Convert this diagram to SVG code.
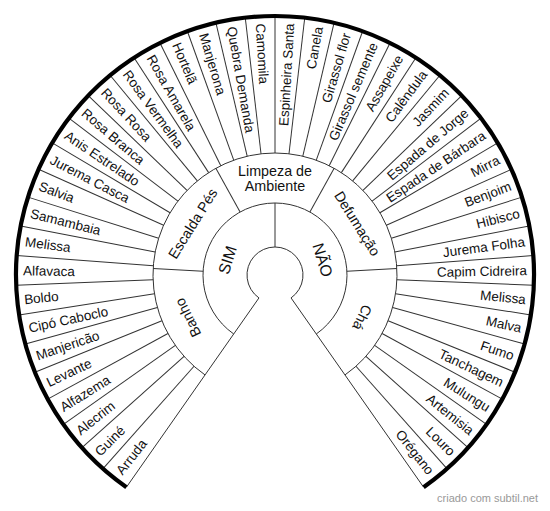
<svg xmlns="http://www.w3.org/2000/svg" xmlns:xlink="http://www.w3.org/1999/xlink" width="550" height="511" viewBox="0 0 550 511">
<style>
  .ln { stroke: #333; stroke-width: 1; fill: none; }
  .outer { stroke: #000; stroke-width: 4.2; fill: none; }
  text { font-family: "Liberation Sans", Arial, sans-serif; fill: #111; }
  .leaf { font-size: 13.5px; }
  .r2 { font-size: 14.3px; text-anchor: middle; }
  .r1 { font-size: 16px; text-anchor: middle; }
  .wm { font-size: 11px; fill: #999; text-anchor: end; }
</style>
<defs>
  <line id="spoke" x1="122" y1="0" x2="259" y2="0" class="ln"/>
  <line id="spoke2" x1="72" y1="0" x2="122" y2="0" class="ln"/>
</defs>
<rect width="550" height="511" fill="#fff"/>
<g id="connectors">
  <path class="ln" d="M 258.94 297.936 A 28 28 0 1 1 291.06 297.936"/>
  <path class="ln" d="M 233.703 333.979 A 72 72 0 1 1 316.297 333.979"/>
  <path class="ln" d="M 205.024 374.937 A 122 122 0 1 1 344.976 374.937"/>
  <line class="ln" x1="258.94" y1="297.936" x2="126.444" y2="487.16"/>
  <line class="ln" x1="291.06" y1="297.936" x2="423.556" y2="487.16"/>
  <g transform="translate(275 275)">
    <line class="ln" x1="0" y1="-28" x2="0" y2="-72"/>
    <use xlink:href="#spoke2" transform="rotate(183)"/>
    <use xlink:href="#spoke2" transform="rotate(241)"/>
    <use xlink:href="#spoke2" transform="rotate(299)"/>
    <use xlink:href="#spoke2" transform="rotate(357)"/>
    <use xlink:href="#spoke" transform="rotate(131.591)"/>
    <use xlink:href="#spoke" transform="rotate(138.182)"/>
    <use xlink:href="#spoke" transform="rotate(144.773)"/>
    <use xlink:href="#spoke" transform="rotate(151.364)"/>
    <use xlink:href="#spoke" transform="rotate(157.955)"/>
    <use xlink:href="#spoke" transform="rotate(164.545)"/>
    <use xlink:href="#spoke" transform="rotate(171.136)"/>
    <use xlink:href="#spoke" transform="rotate(177.727)"/>
    <use xlink:href="#spoke" transform="rotate(184.318)"/>
    <use xlink:href="#spoke" transform="rotate(190.909)"/>
    <use xlink:href="#spoke" transform="rotate(197.5)"/>
    <use xlink:href="#spoke" transform="rotate(204.091)"/>
    <use xlink:href="#spoke" transform="rotate(210.682)"/>
    <use xlink:href="#spoke" transform="rotate(217.273)"/>
    <use xlink:href="#spoke" transform="rotate(223.864)"/>
    <use xlink:href="#spoke" transform="rotate(230.455)"/>
    <use xlink:href="#spoke" transform="rotate(237.045)"/>
    <use xlink:href="#spoke" transform="rotate(243.636)"/>
    <use xlink:href="#spoke" transform="rotate(250.227)"/>
    <use xlink:href="#spoke" transform="rotate(256.818)"/>
    <use xlink:href="#spoke" transform="rotate(263.409)"/>
    <use xlink:href="#spoke" transform="rotate(270)"/>
    <use xlink:href="#spoke" transform="rotate(276.591)"/>
    <use xlink:href="#spoke" transform="rotate(283.182)"/>
    <use xlink:href="#spoke" transform="rotate(289.773)"/>
    <use xlink:href="#spoke" transform="rotate(296.364)"/>
    <use xlink:href="#spoke" transform="rotate(302.955)"/>
    <use xlink:href="#spoke" transform="rotate(309.545)"/>
    <use xlink:href="#spoke" transform="rotate(316.136)"/>
    <use xlink:href="#spoke" transform="rotate(322.727)"/>
    <use xlink:href="#spoke" transform="rotate(329.318)"/>
    <use xlink:href="#spoke" transform="rotate(335.909)"/>
    <use xlink:href="#spoke" transform="rotate(342.5)"/>
    <use xlink:href="#spoke" transform="rotate(349.091)"/>
    <use xlink:href="#spoke" transform="rotate(355.682)"/>
    <use xlink:href="#spoke" transform="rotate(362.273)"/>
    <use xlink:href="#spoke" transform="rotate(368.864)"/>
    <use xlink:href="#spoke" transform="rotate(375.455)"/>
    <use xlink:href="#spoke" transform="rotate(382.045)"/>
    <use xlink:href="#spoke" transform="rotate(388.636)"/>
    <use xlink:href="#spoke" transform="rotate(395.227)"/>
    <use xlink:href="#spoke" transform="rotate(401.818)"/>
    <use xlink:href="#spoke" transform="rotate(408.409)"/>
  </g>
  <path class="outer" d="M 126.444 487.16 A 259 259 0 1 1 423.556 487.16"/>
</g>
<g id="ring1" transform="translate(275 275)">
  <g id="sim"><text class="r1" dy="0.35em" transform="rotate(197.5) translate(50 0) rotate(90)">SIM</text></g>
  <g id="nao"><text class="r1" dy="0.35em" transform="rotate(342.5) translate(50 0) rotate(90)">NÃO</text></g>
</g>
<g id="ring2" transform="translate(275 275)">
  <g id="banho"><text class="r2" dy="0.35em" transform="rotate(154) translate(97 0) rotate(90)">Banho</text></g>
  <g id="escalda"><text class="r2" dy="0.35em" transform="rotate(212) translate(97 0) rotate(90)">Escalda Pés</text></g>
  <g id="limpeza"><text class="r2" transform="rotate(270) translate(97 0) rotate(90)"><tspan x="0" y="-7.5" dy="0.35em">Limpeza de</tspan><tspan x="0" y="7.5" dy="0.35em">Ambiente</tspan></text></g>
  <g id="defumacao"><text class="r2" dy="0.35em" transform="rotate(328) translate(97 0) rotate(90)">Defumação</text></g>
  <g id="cha"><text class="r2" dy="0.35em" transform="rotate(386) translate(97 0) rotate(90)">Chá</text></g>
</g>
<g id="leaves" class="leaf" transform="translate(275 275)">
  <text dy="0.35em" transform="rotate(128.295) translate(252 0) rotate(180)">Arruda</text>
  <text dy="0.35em" transform="rotate(134.886) translate(252 0) rotate(180)">Guiné</text>
  <text dy="0.35em" transform="rotate(141.477) translate(252 0) rotate(180)">Alecrim</text>
  <text dy="0.35em" transform="rotate(148.068) translate(252 0) rotate(180)">Alfazema</text>
  <text dy="0.35em" transform="rotate(154.659) translate(252 0) rotate(180)">Levante</text>
  <text dy="0.35em" transform="rotate(161.25) translate(252 0) rotate(180)">Manjericão</text>
  <text dy="0.35em" transform="rotate(167.841) translate(252 0) rotate(180)">Cipó Caboclo</text>
  <text dy="0.35em" transform="rotate(174.432) translate(252 0) rotate(180)">Boldo</text>
  <text dy="0.35em" transform="rotate(181.023) translate(252 0) rotate(180)">Alfavaca</text>
  <text dy="0.35em" transform="rotate(187.614) translate(252 0) rotate(180)">Melissa</text>
  <text dy="0.35em" transform="rotate(194.205) translate(252 0) rotate(180)">Samambaia</text>
  <text dy="0.35em" transform="rotate(200.795) translate(252 0) rotate(180)">Salvia</text>
  <text dy="0.35em" transform="rotate(207.386) translate(252 0) rotate(180)">Jurema Casca</text>
  <text dy="0.35em" transform="rotate(213.977) translate(252 0) rotate(180)">Anis Estrelado</text>
  <text dy="0.35em" transform="rotate(220.568) translate(252 0) rotate(180)">Rosa Branca</text>
  <text dy="0.35em" transform="rotate(227.159) translate(252 0) rotate(180)">Rosa Rosa</text>
  <text dy="0.35em" transform="rotate(233.75) translate(252 0) rotate(180)">Rosa Vermelha</text>
  <text dy="0.35em" transform="rotate(240.341) translate(252 0) rotate(180)">Rosa Amarela</text>
  <text dy="0.35em" transform="rotate(246.932) translate(252 0) rotate(180)">Hortelã</text>
  <text dy="0.35em" transform="rotate(253.523) translate(252 0) rotate(180)">Manjerona</text>
  <text dy="0.35em" transform="rotate(260.114) translate(252 0) rotate(180)">Quebra Demanda</text>
  <text dy="0.35em" transform="rotate(266.705) translate(252 0) rotate(180)">Camomila</text>
  <text dy="0.35em" text-anchor="end" transform="rotate(273.295) translate(252 0)">Espinheira Santa</text>
  <text dy="0.35em" text-anchor="end" transform="rotate(279.886) translate(252 0)">Canela</text>
  <text dy="0.35em" text-anchor="end" transform="rotate(286.477) translate(252 0)">Girassol flor</text>
  <text dy="0.35em" text-anchor="end" transform="rotate(293.068) translate(252 0)">Girassol semente</text>
  <text dy="0.35em" text-anchor="end" transform="rotate(299.659) translate(252 0)">Assapeixe</text>
  <text dy="0.35em" text-anchor="end" transform="rotate(306.25) translate(252 0)">Calêndula</text>
  <text dy="0.35em" text-anchor="end" transform="rotate(312.841) translate(252 0)">Jasmim</text>
  <text dy="0.35em" text-anchor="end" transform="rotate(319.432) translate(252 0)">Espada de Jorge</text>
  <text dy="0.35em" text-anchor="end" transform="rotate(326.023) translate(252 0)">Espada de Bárbara</text>
  <text dy="0.35em" text-anchor="end" transform="rotate(332.614) translate(252 0)">Mirra</text>
  <text dy="0.35em" text-anchor="end" transform="rotate(339.205) translate(252 0)">Benjoim</text>
  <text dy="0.35em" text-anchor="end" transform="rotate(345.795) translate(252 0)">Hibisco</text>
  <text dy="0.35em" text-anchor="end" transform="rotate(352.386) translate(252 0)">Jurema Folha</text>
  <text dy="0.35em" text-anchor="end" transform="rotate(358.977) translate(252 0)">Capim Cidreira</text>
  <text dy="0.35em" text-anchor="end" transform="rotate(365.568) translate(252 0)">Melissa</text>
  <text dy="0.35em" text-anchor="end" transform="rotate(372.159) translate(252 0)">Malva</text>
  <text dy="0.35em" text-anchor="end" transform="rotate(378.75) translate(252 0)">Fumo</text>
  <text dy="0.35em" text-anchor="end" transform="rotate(385.341) translate(252 0)">Tanchagem</text>
  <text dy="0.35em" text-anchor="end" transform="rotate(391.932) translate(252 0)">Mulungu</text>
  <text dy="0.35em" text-anchor="end" transform="rotate(398.523) translate(252 0)">Artemisia</text>
  <text dy="0.35em" text-anchor="end" transform="rotate(405.114) translate(252 0)">Louro</text>
  <text dy="0.35em" text-anchor="end" transform="rotate(411.705) translate(252 0)">Orégano</text>
</g>
<text class="wm" x="538" y="502">criado com subtil.net</text>
</svg>
